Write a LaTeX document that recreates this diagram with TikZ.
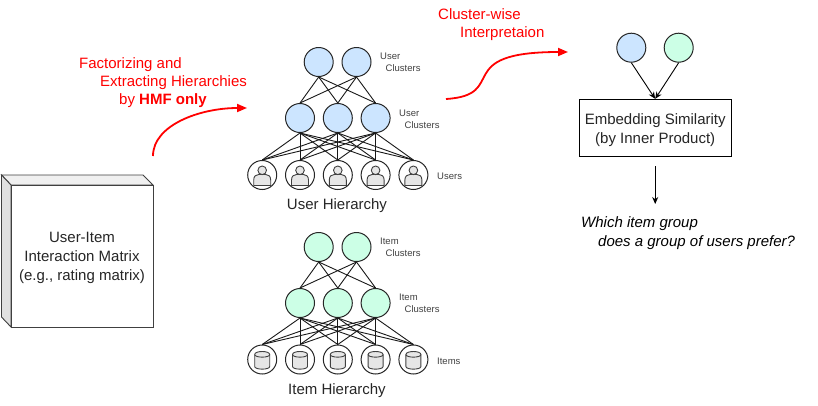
\documentclass[tikz,border=0pt]{standalone}
\usepackage{fontspec}
\setmainfont{Liberation Sans}
\usetikzlibrary{arrows.meta,shapes.geometric}
\definecolor{userblue}{HTML}{CCE5FF}
\definecolor{itemgreen}{HTML}{CCFFE6}
\definecolor{iconfill}{HTML}{E6E6E6}
\tikzset{
  usernode/.style={circle,draw=black!85,fill=userblue,line width=1pt,minimum size=29pt,inner sep=0pt},
  itemnode/.style={circle,draw=black!85,fill=itemgreen,line width=1pt,minimum size=29pt,inner sep=0pt},
  leafnode/.style={circle,draw=black!85,fill=white,line width=1pt,minimum size=29pt,inner sep=0pt},
  smalltext/.style={font=\fontsize{9.5}{12}\selectfont,text=black!75,align=left,anchor=west,inner sep=0pt},
  bigtext/.style={font=\fontsize{15}{18.7}\selectfont,text=black!85,align=center,inner sep=0pt},
  redtext/.style={font=\fontsize{15}{18}\selectfont,text=red,align=left,anchor=west,inner sep=0pt},
  link/.style={line width=0.9pt,black!90},
  redarrow/.style={red,line width=1.8pt,-{Triangle[length=10pt,width=8pt]}},
  blackarrow/.style={line width=0.9pt,-{Stealth[length=7pt,width=6pt]}},
  person/.pic={
    \draw[fill=iconfill,draw=black!75,line width=0.9pt] (-8.5,10.5) -- (-8.5,5) .. controls (-8.5,1) and (-6,-0.5) .. (-3.5,-0.5) -- (3.5,-0.5) .. controls (6,-0.5) and (8.5,1) .. (8.5,5) -- (8.5,10.5) -- cycle;
    \draw[fill=iconfill,draw=black!75,line width=0.9pt] (0,-4.7) circle (4.3pt);
  },
  database/.pic={
    \draw[fill=iconfill,draw=black!75,line width=0.9pt] (-7.5,-5) -- (-7.5,7) .. controls (-7.5,10.5) and (7.5,10.5) .. (7.5,7) -- (7.5,-5) .. controls (7.5,-9) and (-7.5,-9) .. (-7.5,-5) -- cycle;
    \draw[draw=black!75,line width=0.9pt] (-7.5,-5) .. controls (-7.5,-1.5) and (7.5,-1.5) .. (7.5,-5);
  }
}
\begin{document}
\begin{tikzpicture}[x=1pt,y=-1pt,node distance=37.8pt]
  \useasboundingbox (0,0) rectangle (818,405);

  % user hierarchy
  \node (ut1) [usernode] at (318.7,62) {};
  \node (ut2) [usernode,right of=ut1] {};
  \node (um1) [usernode] at (300,118) {};
  \node (um2) [usernode,right of=um1] {};
  \node (um3) [usernode,right of=um2] {};
  \node (ul1) [leafnode] at (262.2,175) {};
  \node (ul2) [leafnode,right of=ul1] {};
  \node (ul3) [leafnode,right of=ul2] {};
  \node (ul4) [leafnode,right of=ul3] {};
  \node (ul5) [leafnode,right of=ul4] {};

  \path[link]
  (ut1.south) edge (um1.north) edge (um2.north) edge (um3.north)
  (ut2.south) edge (um1.north) edge (um2.north) edge (um3.north)
  (um1.south) edge (ul1.north) edge (ul2.north) edge (ul3.north) edge (ul4.north) edge (ul5.north)
  (um2.south) edge (ul1.north) edge (ul2.north) edge (ul3.north) edge (ul4.north) edge (ul5.north)
  (um3.south) edge (ul1.north) edge (ul2.north) edge (ul3.north) edge (ul4.north) edge (ul5.north);

  \pic at (ul1) {person};
  \pic at (ul2) {person};
  \pic at (ul3) {person};
  \pic at (ul4) {person};
  \pic at (ul5) {person};

  \node (utl) [smalltext] at (380,62) {User\\\hspace{5.5pt}Clusters};
  \node (uml) [smalltext] at (399,119) {User\\\hspace{5.5pt}Clusters};
  \node (ull) [smalltext] at (437,176.5) {Users};
  \node (uh) [bigtext] at (337,206) {User Hierarchy};

  % item hierarchy
  \node (it1) [itemnode] at (318.7,247) {};
  \node (it2) [itemnode,right of=it1] {};
  \node (im1) [itemnode] at (300,303) {};
  \node (im2) [itemnode,right of=im1] {};
  \node (im3) [itemnode,right of=im2] {};
  \node (il1) [leafnode] at (262.2,359.5) {};
  \node (il2) [leafnode,right of=il1] {};
  \node (il3) [leafnode,right of=il2] {};
  \node (il4) [leafnode,right of=il3] {};
  \node (il5) [leafnode,right of=il4] {};

  \path[link]
  (it1.south) edge (im1.north) edge (im2.north) edge (im3.north)
  (it2.south) edge (im1.north) edge (im2.north) edge (im3.north)
  (im1.south) edge (il1.north) edge (il2.north) edge (il3.north) edge (il4.north) edge (il5.north)
  (im2.south) edge (il1.north) edge (il2.north) edge (il3.north) edge (il4.north) edge (il5.north)
  (im3.south) edge (il1.north) edge (il2.north) edge (il3.north) edge (il4.north) edge (il5.north);

  \pic at (il1) {database};
  \pic at (il2) {database};
  \pic at (il3) {database};
  \pic at (il4) {database};
  \pic at (il5) {database};

  \node (itl) [smalltext] at (380,247) {Item\\\hspace{5.5pt}Clusters};
  \node (iml) [smalltext] at (399,303) {Item\\\hspace{5.5pt}Clusters};
  \node (ill) [smalltext] at (437,361) {Items};
  \node (ih) [bigtext] at (337,391) {Item Hierarchy};

  % matrix block
  \draw[draw=black!75,fill=black!6,line width=0.9pt] (1.5,175) -- (143,175) -- (153,185) -- (11,185) -- cycle;
  \draw[draw=black!75,fill=black!12,line width=0.9pt] (1.5,175) -- (11,185) -- (11,327) -- (1.5,317) -- cycle;
  \node (mat) [draw=black!75,fill=white,line width=0.9pt,minimum width=142pt,minimum height=142pt,label={[bigtext,yshift=-2pt]center:{User-Item\\Interaction Matrix\\(e.g., rating matrix)}}] at (82,256) {};

  % similarity block
  \node (ca) [usernode] at (631.3,47.7) {};
  \node (cb) [itemnode] at (678.7,47.7) {};
  \node (sim) [draw=black,fill=white,line width=0.9pt,minimum width=152pt,minimum height=57pt,label={[bigtext,yshift=-2pt]center:{Embedding Similarity\\(by Inner Product)}}] at (655.2,127.8) {};
  \coordinate (qs) at (655.2,166);
  \coordinate (qe) at (655.2,204);

  \path[blackarrow]
  (ca.south) edge (sim.north)
  (cb.south) edge (sim.north)
  (qs) edge (qe);

  \node (qa) [font=\fontsize{15}{19}\selectfont\itshape,align=left,anchor=west,inner sep=0pt] at (581,233) {Which item group\\\hspace{17pt}does a group of users prefer?};

  % red labels
  \node (fa) [redtext] at (79,83) {Factorizing and\\\hspace{21pt}Extracting Hierarchies\\\hspace{40pt}by \textbf{HMF only}};
  \node (cw) [redtext] at (438,24.5) {Cluster-wise\\\hspace{22pt}Interpretaion};

  \coordinate (ra) at (153,156);
  \coordinate (rb) at (247,108);
  \coordinate (rc) at (446,99);
  \coordinate (rd) at (568,52);
  \draw[redarrow] (ra) .. controls (153,125) and (200,108) .. (rb);
  \draw[redarrow] (rc) .. controls (510,95) and (450,52) .. (rd);
\end{tikzpicture}
\end{document}
